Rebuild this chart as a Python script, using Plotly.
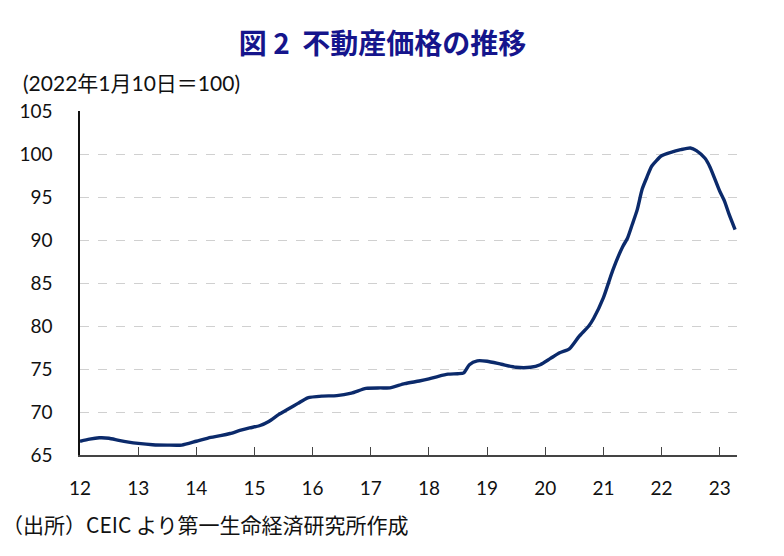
import plotly.graph_objects as go

dates = [
    "2012-01-01", "2012-03-01", "2012-05-01", "2012-07-01", "2012-09-01", "2012-11-01",
    "2013-01-01", "2013-04-01", "2013-07-01", "2013-10-01",
    "2014-01-01", "2014-04-01", "2014-06-01", "2014-08-01", "2014-10-01", "2014-12-01",
    "2015-02-01", "2015-04-01", "2015-06-01", "2015-08-01", "2015-10-01", "2015-12-01",
    "2016-03-01", "2016-06-01", "2016-09-01", "2016-12-01",
    "2017-03-01", "2017-05-01", "2017-08-01", "2017-11-01",
    "2018-01-01", "2018-03-01", "2018-05-01", "2018-07-01", "2018-08-08", "2018-09-12", "2018-11-01",
    "2019-01-01", "2019-04-01", "2019-07-01", "2019-10-01", "2019-12-01",
    "2020-02-01", "2020-04-01", "2020-06-01", "2020-08-01", "2020-10-01", "2020-11-01",
    "2021-01-01", "2021-03-01", "2021-05-01", "2021-06-01", "2021-07-01", "2021-08-01",
    "2021-09-01", "2021-10-01", "2021-11-01",
    "2022-01-01", "2022-03-01", "2022-05-01", "2022-07-01", "2022-08-08", "2022-10-01", "2022-11-01",
    "2023-01-01", "2023-02-01", "2023-03-01", "2023-04-08",
]
values = [
    66.6, 66.85, 67.0, 66.95, 66.7, 66.5,
    66.35, 66.2, 66.15, 66.15,
    66.6, 67.05, 67.25, 67.5, 67.85, 68.15,
    68.4, 68.9, 69.7, 70.35, 71.0, 71.65,
    71.85, 71.9, 72.2, 72.75,
    72.8, 72.8, 73.3, 73.6,
    73.85, 74.15, 74.4, 74.45, 74.55, 75.5, 75.95,
    75.9, 75.55, 75.2, 75.2, 75.5,
    76.2, 76.9, 77.35, 78.8, 80.0, 80.9,
    83.3, 86.5, 89.2, 90.2, 91.8, 93.5,
    95.9, 97.3, 98.6,
    99.8, 100.2, 100.5, 100.7, 100.4, 99.5, 98.5,
    95.7, 94.5, 93.0, 91.2,
]

year_ticks = [f"{y}-01-01" for y in range(2012, 2024)]
year_labels = [f"{y % 100}" for y in range(2012, 2024)]
y_ticks = [65, 70, 75, 80, 85, 90, 95, 100, 105]

title_text = "図 2\u00a0\u00a0不動産価格の推移"
unit_text = "(2022年1月10日＝100)"
source_text = "（出所）CEIC より第一生命経済研究所作成"

num_font = "Lato, Noto Sans CJK JP, sans-serif"
cjk_font = "Noto Sans CJK JP, sans-serif"

fig = go.Figure()
fig.add_trace(go.Scatter(
    x=dates, y=values, mode="lines",
    line=dict(color="#0b2a6b", width=3.4, shape="spline", smoothing=0.6),
    hoverinfo="skip", showlegend=False,
))

fig.update_layout(
    width=784, height=556,
    margin=dict(l=80, r=47, t=111, b=101),
    paper_bgcolor="white", plot_bgcolor="white",
    title=dict(text="<b>" + title_text + "</b>", x=0.488, xanchor="center",
               y=0.921, yanchor="middle",
               font=dict(family=cjk_font, size=28, color="#15158c")),
    xaxis=dict(
        type="date", range=["2012-01-01", "2023-04-20"],
        tickvals=year_ticks, ticktext=year_labels,
        ticks="inside", ticklen=8, tickcolor="#444444", tickwidth=1,
        showline=True, linecolor="#444444", linewidth=1.5,
        showgrid=False, zeroline=False,
        tickfont=dict(family=num_font, size=19, color="#111111"),
        ticklabelstandoff=15,
    ),
    yaxis=dict(
        range=[65, 105], tickvals=y_ticks,
        showline=True, linecolor="#111111", linewidth=1.5,
        showgrid=True, gridcolor="#d0d0d0", griddash="dash", gridwidth=1,
        zeroline=False, ticks="",
        tickfont=dict(family=num_font, size=19, color="#111111"),
        ticklabelstandoff=22,
    ),
    annotations=[
        dict(text=unit_text, xref="paper", yref="paper", x=-0.09, y=1.0,
             xanchor="left", yanchor="middle", yshift=29, showarrow=False,
             font=dict(family=num_font, size=21, color="#111111")),
        dict(text=source_text, xref="paper", yref="paper", x=-0.122, y=0,
             xanchor="left", yanchor="middle", yshift=-69, showarrow=False,
             font=dict(family=cjk_font, size=21, color="#111111")),
    ],
)

fig.write_html("out.html")
